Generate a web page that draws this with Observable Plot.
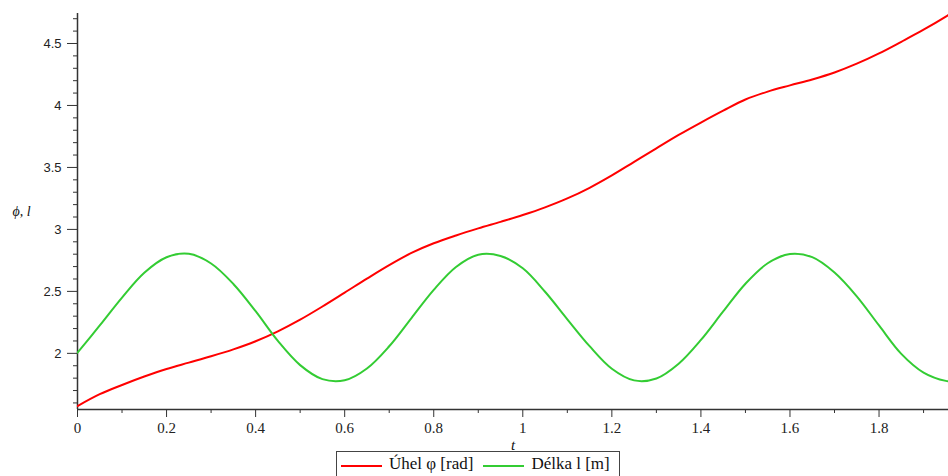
<!DOCTYPE html>
<html>
<head>
<meta charset="utf-8">
<script src="https://cdn.jsdelivr.net/npm/d3@7"></script>
<script src="https://cdn.jsdelivr.net/npm/@observablehq/plot@0.6"></script>
<style>
  html, body { margin: 0; padding: 0; background: #fff; }
  #chart svg { display: block; }
  #legend {
    position: absolute; left: 336px; top: 451px; width: 284px; height: 30px;
    border: 1px solid #444; box-sizing: border-box; background: #fff;
    font-family: "Liberation Serif", "Times New Roman", serif; font-size: 17px; color: #111;
    display: flex; align-items: flex-start; padding-top: 2px; padding-left: 4px;
  }
  .sw { display: inline-block; width: 41px; height: 2px; margin-top: 11px; margin-right: 7px; }
  .item { display: flex; align-items: flex-start; white-space: nowrap; }
</style>
</head>
<body>
<div id="chart"></div>
<div id="legend"></div>
<script>
// ---- data ----
const tValues = [0, 0.05, 0.1, 0.15, 0.2, 0.25, 0.3, 0.35, 0.4, 0.45, 0.5, 0.55, 0.6, 0.65, 0.7, 0.75, 0.8, 0.85, 0.9, 0.95,
  1, 1.05, 1.1, 1.15, 1.2, 1.25, 1.3, 1.35, 1.4, 1.45, 1.5, 1.55, 1.6, 1.65, 1.7, 1.75, 1.8, 1.85, 1.9, 1.95, 1.96];
const angleValues = [1.575, 1.671, 1.745, 1.813, 1.874, 1.925, 1.976, 2.032, 2.098, 2.178, 2.272, 2.378, 2.49, 2.603, 2.712, 2.81, 2.888, 2.951, 3.008, 3.061,
  3.116, 3.178, 3.25, 3.336, 3.436, 3.545, 3.654, 3.762, 3.862, 3.958, 4.048, 4.112, 4.162, 4.21, 4.266, 4.337, 4.42, 4.514, 4.611, 4.717, 4.74];
const lengthValues = [2.005, 2.225, 2.45, 2.65, 2.775, 2.803, 2.725, 2.56, 2.34, 2.10, 1.905, 1.792, 1.783, 1.878, 2.057, 2.285, 2.512, 2.697, 2.796, 2.786,
  2.686, 2.497, 2.275, 2.058, 1.876, 1.782, 1.797, 1.916, 2.108, 2.338, 2.562, 2.727, 2.802, 2.776, 2.652, 2.46, 2.225, 1.996, 1.845, 1.778, 1.776];
const seriesNames = ["Úhel φ [rad]", "Délka l [m]"];
const seriesColors = ["#ff0000", "#33cc33"];
const xTicks = [0, 0.2, 0.4, 0.6, 0.8, 1, 1.2, 1.4, 1.6, 1.8];
const yTicks = [2, 2.5, 3, 3.5, 4, 4.5];
const xDomain = [0, 1.956];
const yDomain = [1.547, 4.742];
const xLabel = "t";
const yLabel = "ϕ, l";

// ---- build table ----
const rows = [];
tValues.forEach((t, i) => {
  rows.push({t, v: angleValues[i], s: seriesNames[0]});
  rows.push({t, v: lengthValues[i], s: seriesNames[1]});
});
const xMinor = d3.range(0.1, 1.96, 0.2).map(v => +v.toFixed(2));
const yMinor = d3.range(1.6, 4.75, 0.1).map(v => +v.toFixed(2)).filter(v => !yTicks.some(y => Math.abs(y - v) < 1e-6));

const axisColor = "#333";
const plot = Plot.plot({
  width: 948,
  height: 451,
  marginTop: 13,
  marginBottom: 42,
  marginLeft: 77,
  marginRight: 0,
  x: {domain: xDomain},
  y: {domain: yDomain},
  color: {domain: seriesNames, range: seriesColors},
  style: {background: "#fff", overflow: "visible"},
  marks: [
    Plot.axisX({ticks: xTicks, tickSize: 8, tickPadding: 5, tickFormat: d => String(d), label: null,
      fontSize: 15, fontFamily: "Liberation Serif, Times New Roman, serif", stroke: axisColor, fill: "#222"}),
    Plot.axisX({ticks: xMinor, tickSize: 4, tickFormat: () => "", label: null, stroke: axisColor}),
    Plot.axisY({ticks: yTicks, tickSize: 10, tickPadding: 6, tickFormat: d => String(d), label: null,
      fontSize: 13, fontFamily: "Liberation Sans, Arial, sans-serif", stroke: axisColor, fill: "#222"}),
    Plot.axisY({ticks: yMinor, tickSize: 4, tickFormat: () => "", label: null, stroke: axisColor}),
    Plot.ruleX([xDomain[0]], {stroke: axisColor, strokeWidth: 1.5}),
    Plot.ruleY([yDomain[0]], {stroke: axisColor, strokeWidth: 1.5}),
    Plot.line(rows, {x: "t", y: "v", z: "s", stroke: "s", strokeWidth: 2, curve: "catmull-rom", clip: true}),
    Plot.text([yLabel], {frameAnchor: "left", dx: -56, text: d => d, textAnchor: "middle", lineAnchor: "middle",
      fontStyle: "italic", fontSize: 14, fontFamily: "Liberation Serif, Times New Roman, serif", fill: "#111"}),
    Plot.text([xLabel], {frameAnchor: "bottom", dy: 36, text: d => d, textAnchor: "middle", lineAnchor: "middle",
      fontStyle: "italic", fontSize: 15, fontFamily: "Liberation Serif, Times New Roman, serif", fill: "#111"})
  ]
});
document.getElementById("chart").appendChild(plot);

const legend = document.getElementById("legend");
seriesNames.forEach((name, i) => {
  const item = document.createElement("span");
  item.className = "item";
  if (i > 0) item.style.marginLeft = "10px";
  const sw = document.createElement("span");
  sw.className = "sw";
  sw.style.background = seriesColors[i];
  const lab = document.createElement("span");
  lab.textContent = name;
  item.appendChild(sw);
  item.appendChild(lab);
  legend.appendChild(item);
});
</script>
</body>
</html>
